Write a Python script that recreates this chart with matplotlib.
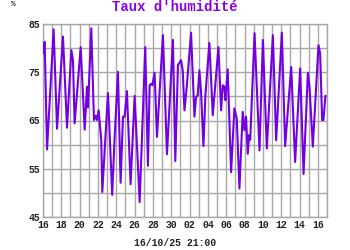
import matplotlib
matplotlib.use('Agg')
import matplotlib.pyplot as plt

# days since 16/09 00:00, humidity in %
days = [0.0, 0.18, 0.44, 1.16, 1.53, 2.18, 2.62, 3.09, 3.27, 3.45, 4.11, 4.55, 4.8, 4.91,
        5.27, 5.56, 5.75, 5.89, 6.07, 6.36, 6.47, 7.09, 7.55, 7.82, 8.18, 8.47, 8.73, 8.91,
        9.16, 9.56, 10.0, 10.55, 11.16, 11.45, 11.64, 11.82, 11.93, 12.18, 12.44, 13.09,
        13.53, 14.18, 14.44, 14.73, 15.07, 15.25, 15.44, 15.69, 15.98, 16.16, 16.53, 16.71,
        16.89, 17.07, 17.25, 17.51, 17.73, 18.16, 18.53, 19.15, 19.44, 19.62, 19.8, 19.91,
        20.16, 20.53, 20.89, 21.15, 21.44, 21.8, 21.98, 22.16, 22.35, 22.5, 22.62, 23.09,
        23.63, 24.0, 24.43, 25.09, 25.45, 26.07, 26.43, 27.09, 27.52, 28.07, 28.44, 28.91,
        29.09, 29.45, 30.07, 30.25, 30.47, 30.61, 30.83]
humidity = [79.0, 81.3, 59.0, 83.9, 63.3, 82.4, 63.5, 79.6, 77.5, 64.4, 80.2, 63.1, 72.0, 67.7,
            84.1, 65.1, 66.0, 65.1, 67.1, 60.9, 50.2, 70.7, 49.6, 61.6, 75.1, 52.1, 65.8, 65.8,
            71.1, 51.8, 70.1, 48.1, 80.2, 55.6, 72.3, 72.6, 72.3, 74.9, 61.6, 82.7,
            58.0, 81.7, 56.6, 76.5, 77.5, 75.4, 67.1, 72.0, 78.9, 83.2, 65.8, 69.9,
            70.2, 75.4, 71.0, 59.7, 70.3, 81.1, 66.1, 80.2, 67.1, 72.3, 72.0, 69.2,
            75.6, 54.3, 67.5, 65.4, 50.9, 66.8, 63.0, 65.8, 58.1, 62.0, 61.0, 83.1,
            58.8, 81.7, 59.2, 82.7, 60.9, 83.2, 59.7, 76.1, 56.4, 75.8, 53.9, 74.9,
            72.0, 59.6, 80.6, 78.9, 65.1, 65.1, 70.1]

xtick_pos = list(range(0, 31, 2))
xtick_labels = ['16', '18', '20', '22', '24', '26', '28', '30',
                '02', '04', '06', '08', '10', '12', '14', '16']
ytick_pos = [45, 55, 65, 75, 85]

mono = 'Liberation Mono'
fig = plt.figure(figsize=(3.5, 2.5), dpi=100)
ax = fig.add_axes([0.1229, 0.132, 0.8114, 0.772])

ax.plot(days, humidity, color='#7300e0', linewidth=1.5, zorder=3)

ax.set_xlim(0, 31)
ax.set_ylim(45, 85)
ax.set_xticks(range(0, 32), minor=True)
ax.set_yticks(range(45, 86, 5), minor=True)
ax.set_xticks(xtick_pos)
ax.set_xticklabels(xtick_labels)
ax.set_yticks(ytick_pos)
ax.grid(True, which='both', color='#a8a8a8', linewidth=1.0)
ax.tick_params(which='both', length=0, labelsize=7, colors='#202020', pad=2)
for lab in ax.get_xticklabels() + ax.get_yticklabels():
    lab.set_fontfamily(mono)
    lab.set_fontweight('bold')
for s in ax.spines.values():
    s.set_color('#a8a8a8')
    s.set_linewidth(1.0)

fig.text(0.5, 0.972, "Taux d'humidité", ha='center', va='center', fontsize=10,
         fontweight='bold', family=mono, color='#8a00e6')
fig.text(0.037, 0.982, '%', ha='center', va='center', fontsize=5.5,
         fontweight='bold', family=mono, color='#303030')
fig.text(0.5, 0.028, '16/10/25 21:00', ha='center', va='center', fontsize=7,
         fontweight='bold', family=mono, color='#202020')

fig.savefig('out.png', dpi=100)
